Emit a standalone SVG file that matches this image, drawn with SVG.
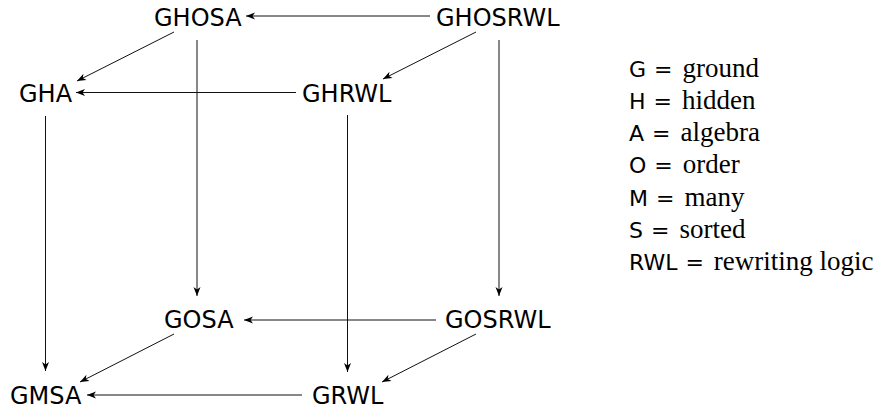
<svg xmlns="http://www.w3.org/2000/svg" width="892" height="411" viewBox="0 0 892 411">
<style>
.n{font-family:"DejaVu Sans","Liberation Sans",sans-serif;font-size:24px;fill:#000}
.c{fill:none;stroke:#111;stroke-width:1}
.ls{font-family:"DejaVu Sans","Liberation Sans",sans-serif;font-size:22px}
.eq{font-family:"DejaVu Sans",sans-serif;font-size:22px}
.lr{font-family:"Liberation Serif","DejaVu Serif",serif;font-size:27px}
</style>
<defs>
<marker id="ah" viewBox="-10 -5 11 10" refX="0" refY="0" markerWidth="11" markerHeight="10" markerUnits="userSpaceOnUse" orient="auto">
<path d="M0,0 L-9,-3.5 L-6.5,0 L-9,3.5 Z" fill="#000"/>
</marker>
</defs>
<g id="connectors">
<path class="c" d="M430,16 H246" marker-end="url(#ah)"/>
<path class="c" d="M296,92.5 H76" marker-end="url(#ah)"/>
<path class="c" d="M436,320 H244" marker-end="url(#ah)"/>
<path class="c" d="M302,395 H87" marker-end="url(#ah)"/>
<path class="c" d="M197,40 V296" marker-end="url(#ah)"/>
<path class="c" d="M499,40 V296" marker-end="url(#ah)"/>
<path class="c" d="M45.5,116 V371" marker-end="url(#ah)"/>
<path class="c" d="M347.5,115 V372" marker-end="url(#ah)"/>
<path class="c" d="M174,32 L77,81" marker-end="url(#ah)"/>
<path class="c" d="M476,32 L383,79" marker-end="url(#ah)"/>
<path class="c" d="M174,334 L80,382" marker-end="url(#ah)"/>
<path class="c" d="M476,334 L382,382" marker-end="url(#ah)"/>
</g>
<g id="GHOSA"><text class="n" x="154" y="26">GHOSA</text></g>
<g id="GHOSRWL"><text class="n" x="436" y="26">GHOSRWL</text></g>
<g id="GHA"><text class="n" x="19" y="102">GHA</text></g>
<g id="GHRWL"><text class="n" x="302" y="102">GHRWL</text></g>
<g id="GOSA"><text class="n" x="164" y="328">GOSA</text></g>
<g id="GOSRWL"><text class="n" x="445" y="328">GOSRWL</text></g>
<g id="GMSA"><text class="n" x="10" y="404">GMSA</text></g>
<g id="GRWL"><text class="n" x="312" y="404">GRWL</text></g>
<g id="legend">
<text x="629" y="77"><tspan class="ls">G</tspan><tspan class="eq" dx="8">=</tspan><tspan class="lr" dx="10">ground</tspan></text>
<text x="629" y="109"><tspan class="ls">H</tspan><tspan class="eq" dx="8">=</tspan><tspan class="lr" dx="10">hidden</tspan></text>
<text x="629" y="141"><tspan class="ls">A</tspan><tspan class="eq" dx="8">=</tspan><tspan class="lr" dx="10">algebra</tspan></text>
<text x="629" y="173"><tspan class="ls">O</tspan><tspan class="eq" dx="8">=</tspan><tspan class="lr" dx="10">order</tspan></text>
<text x="629" y="206"><tspan class="ls">M</tspan><tspan class="eq" dx="8">=</tspan><tspan class="lr" dx="10">many</tspan></text>
<text x="629" y="238"><tspan class="ls">S</tspan><tspan class="eq" dx="8">=</tspan><tspan class="lr" dx="10">sorted</tspan></text>
<text x="629" y="270"><tspan class="ls">RWL</tspan><tspan class="eq" dx="8">=</tspan><tspan class="lr" dx="10">rewriting logic</tspan></text>
</g>
</svg>
